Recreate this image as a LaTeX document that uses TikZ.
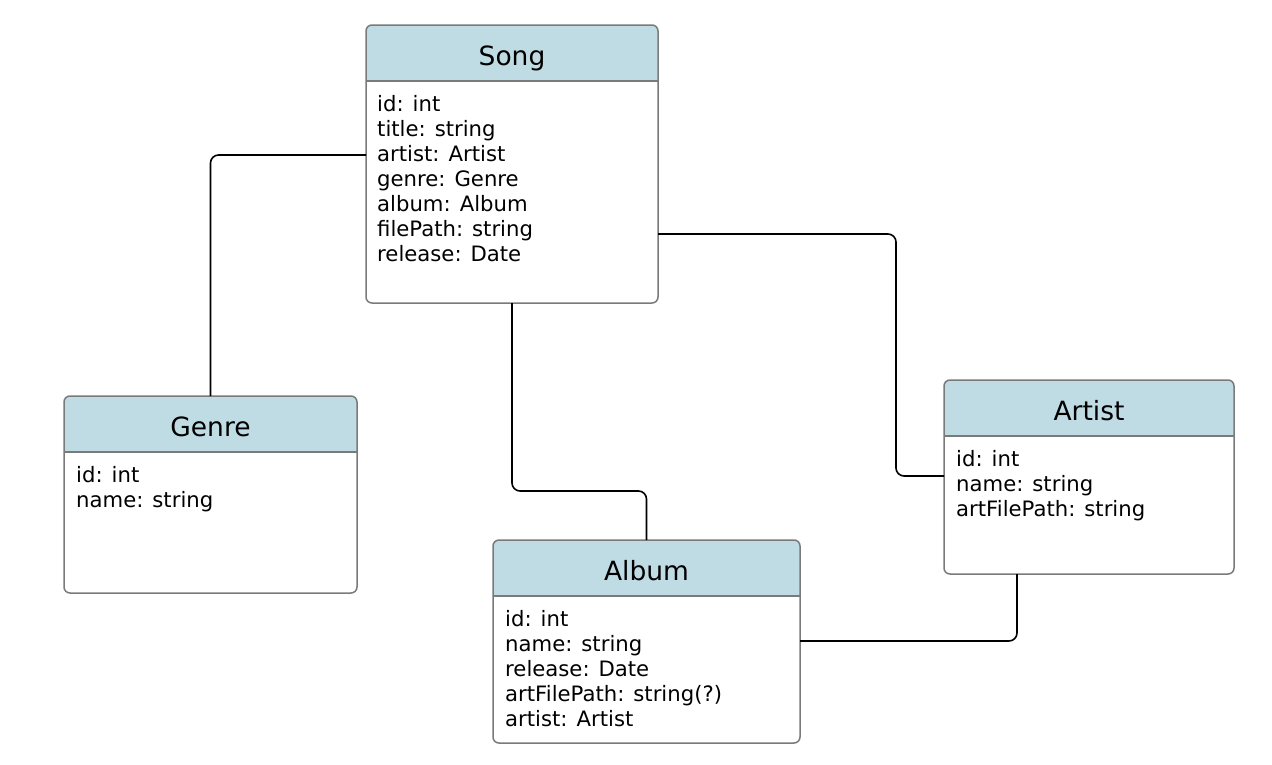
\documentclass[tikz,border=0pt]{standalone}
\usepackage{fontspec}
\setmainfont{DejaVu Sans}
\usetikzlibrary{calc,backgrounds}
\definecolor{hdrblue}{HTML}{BFDCE5}
\definecolor{boxgray}{HTML}{7A7A7A}
\tikzset{
  classbox/.style={draw=boxgray, line width=1.5pt, rounded corners=6pt, inner sep=0pt, outer sep=0pt},
  boxline/.style={draw=boxgray, line width=1.5pt},
  hdr/.style={fill=hdrblue},
  titletext/.style={font=\fontsize{26.5}{30}\selectfont, inner sep=0pt, anchor=base},
  bodytext/.style={font=\fontsize{21.2}{25}\selectfont, inner sep=0pt, anchor=base west},
  conn/.style={draw=black, line width=1.6pt, rounded corners=8pt}
}
\newcommand{\umlbox}[7]{%
  \node[classbox, minimum width=#4pt, minimum height=#5pt] (#1) at (#2,#3) {};
  \begin{pgfonlayer}{background}
    \begin{scope}
      \clip (#1.north west) rectangle (#1.east |- 0,#6);
      \fill[hdr, rounded corners=6pt] (#1.north west) rectangle (#1.south east);
    \end{scope}
  \end{pgfonlayer}
  \draw[boxline] (#1.west |- 0,#6) -- (#1.east |- 0,#6);
  \node[titletext] (#1-title) at ($(#1.north |- 0,#6)+(0,-16)$) {#7};
}
\newcommand{\lines}[1]{\begin{tabular}[t]{@{}l@{}}#1\end{tabular}}
\begin{document}
\begin{tikzpicture}[x=1pt,y=-1pt]
\useasboundingbox (0,0) rectangle (1272,764);

\umlbox{song}{512}{164}{292}{278}{81}{Song}
\umlbox{genre}{210.5}{494.5}{293}{197}{452}{Genre}
\umlbox{artist}{1089}{477}{290}{194}{436}{Artist}
\umlbox{album}{646.5}{641.5}{307}{203}{596}{Album}

\node[bodytext] (song-body) at (377,111)
  {\lines{id: int\\title: string\\artist: Artist\\genre: Genre\\album: Album\\filePath: string\\release: Date}};
\node[bodytext] (genre-body) at (76,482)
  {\lines{id: int\\name: string}};
\node[bodytext] (artist-body) at (956,466)
  {\lines{id: int\\name: string\\artFilePath: string}};
\node[bodytext] (album-body) at (505,626)
  {\lines{id: int\\name: string\\release: Date\\artFilePath: string(?)\\artist: Artist}};

\draw[conn] (song.west |- 0,155) -| (genre.north);
\draw[conn] (song.east |- 0,234) -| (896,355) |- (artist.west |- 0,476);
\draw[conn] (song.south) |- (579,491) -| (album.north);
\draw[conn] (album.east |- 0,641) -| (artist.south -| 1017,0);
\end{tikzpicture}
\end{document}
